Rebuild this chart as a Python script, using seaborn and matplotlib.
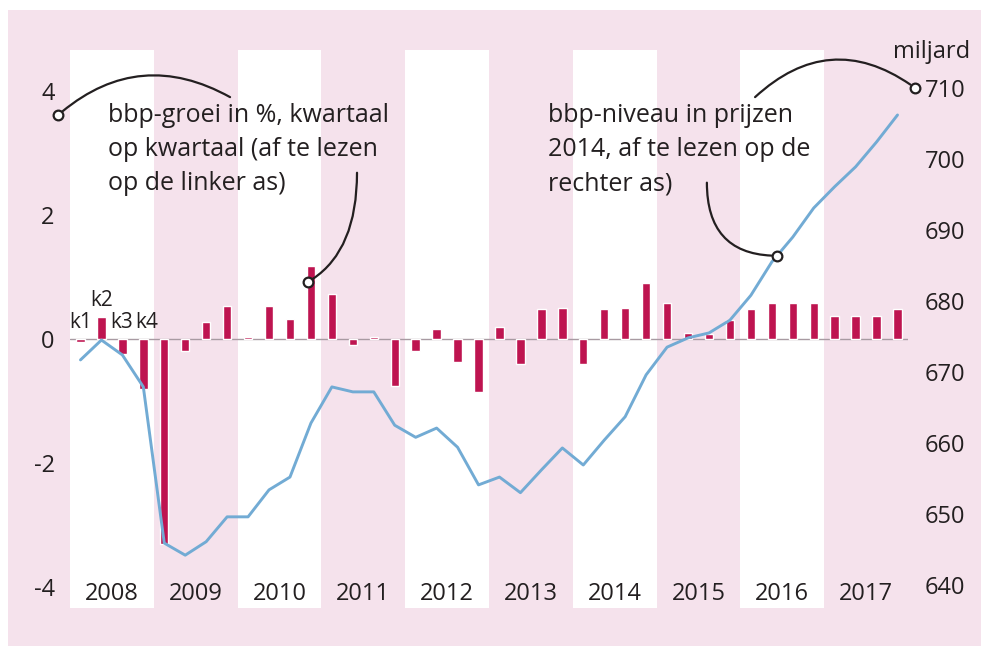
import numpy as np
import pandas as pd
import matplotlib
matplotlib.use("Agg")
import matplotlib.pyplot as plt
import seaborn as sns
from matplotlib.patches import Rectangle

# kwartaalcijfers 2008K1 - 2017K4
jaren = list(range(2008, 2018))
kwartalen = [f"{j}K{k}" for j in jaren for k in range(1, 5)]
groei = [-0.05, 0.35, -0.25, -0.8,
         -3.3, -0.2, 0.27, 0.53,
         0.03, 0.53, 0.32, 1.18,
         0.73, -0.1, 0.03, -0.76,
         -0.2, 0.16, -0.37, -0.86,
         0.2, -0.4, 0.48, 0.5,
         -0.4, 0.48, 0.5, 0.9,
         0.58, 0.1, 0.08, 0.3,
         0.48, 0.58, 0.58, 0.58,
         0.37, 0.37, 0.37, 0.48]
niveau = [671.7, 674.5, 672.4, 667.9,
          645.9, 644.2, 646.1, 649.6,
          649.6, 653.4, 655.2, 662.8,
          667.9, 667.2, 667.2, 662.5,
          660.8, 662.1, 659.4, 654.1,
          655.2, 653.0, 656.2, 659.3,
          656.9, 660.4, 663.7, 669.6,
          673.5, 674.8, 675.5, 677.3,
          680.8, 685.5, 689.0, 693.1,
          696.1, 698.9, 702.4, 706.2]
links_ticks = [-4, -2, 0, 2, 4]
rechts_ticks = [640, 650, 660, 670, 680, 690, 700, 710]
kwartaal_labels = ["k1", "k2", "k3", "k4"]

df = pd.DataFrame({"kwartaal": kwartalen, "groei": groei, "niveau": niveau})
df["pos"] = np.arange(len(df))

ROZE = "#f5e2ec"
ROOD = "#be1450"
BLAUW = "#72abd4"
TEKST = "#231f20"

sns.set_style("white")
plt.rcParams["font.family"] = ["Open Sans", "DejaVu Sans"]
plt.rcParams["axes.unicode_minus"] = False

fig = plt.figure(figsize=(9.81, 6.46), dpi=100, facecolor="white")
fig.add_artist(Rectangle((8 / 981, 0), 1, 1 - 10 / 646, transform=fig.transFigure,
                         facecolor=ROZE, edgecolor="none", zorder=-5))

ax = fig.add_axes([70 / 981, 38 / 646, 838 / 981, 558 / 646])
ax.set_facecolor("none")

# witte banden voor de even jaren
for i, j in enumerate(jaren):
    if i % 2 == 0:
        ax.axvspan(4 * i - 0.5, 4 * i + 3.5, color="white", lw=0, zorder=0)

ax.axhline(0, color="#a89aa2", lw=1, zorder=1)
sns.barplot(data=df, x="pos", y="groei", native_scale=True, color=ROOD,
            saturation=1, width=0.4, ax=ax, zorder=2)

ax.set_xlim(-0.5, len(df) - 0.5)
ax.set_ylim(-4.34, 4.66)
ax.set_yticks(links_ticks)
ax.set_xticks([])
ax.tick_params(axis="y", length=0, pad=11, labelsize=17, labelcolor=TEKST)
ax.set_xlabel("")
ax.set_ylabel("")
sns.despine(ax=ax, left=True, bottom=True)

ax2 = ax.twinx()
sns.lineplot(data=df, x="pos", y="niveau", color=BLAUW, lw=2.1, ax=ax2)
ax2.set_ylim(636.76, 715.35)
ax2.set_yticks(rechts_ticks)
ax2.tick_params(axis="y", length=0, pad=12, labelsize=17, labelcolor=TEKST)
ax2.set_xlabel("")
ax2.set_ylabel("")
for s in ax2.spines.values():
    s.set_visible(False)

# jaartallen onderin de banden
for i, j in enumerate(jaren):
    ax.text(4 * i + 1.5, 0.025, str(j), transform=ax.get_xaxis_transform(),
            ha="center", va="center", fontsize=17, color=TEKST)

# k1..k4 boven de eerste vier kwartalen
k_x = [0, 1, 1.95, 3.15]
for k, lab in enumerate(kwartaal_labels):
    yy = 0.62 if k == 1 else 0.26
    ax.text(k_x[k], yy, lab, ha="center", va="center", fontsize=15, color=TEKST, zorder=3)

# toelichtingen
ax2.text(1.3, 3.05, "bbp-groei in %, kwartaal\nop kwartaal (af te lezen\nop de linker as)",
         transform=ax.transData, ha="left", va="center", fontsize=18,
         linespacing=1.48, color=TEKST)
ax2.text(22.3, 3.05, "bbp-niveau in prijzen\n2014, af te lezen op de\nrechter as)",
         transform=ax.transData, ha="left", va="center", fontsize=18,
         linespacing=1.48, color=TEKST)
fig.text(970 / 981, 1 - 52 / 646, "miljard", ha="right", va="center",
         fontsize=17, color=TEKST)

lijn = dict(arrowstyle="-", color=TEKST, lw=1.6, shrinkA=0, shrinkB=4)
ax2.annotate("", xy=(-1.07, 3.61), xycoords=ax.transData,
             xytext=(7.14, 3.9), textcoords=ax.transData,
             arrowprops=dict(lijn, connectionstyle="arc3,rad=0.35"), annotation_clip=False)
ax2.annotate("", xy=(10.86, 0.92), xycoords=ax.transData,
             xytext=(13.2, 2.68), textcoords=ax.transData,
             arrowprops=dict(lijn, connectionstyle="angle3,angleA=90,angleB=30"))
x3 = 33.25
y3 = np.interp(x3, df["pos"], df["niveau"])
ax2.annotate("", xy=(x3, y3), xytext=(29.9, 2.52), textcoords=ax.transData,
             arrowprops=dict(lijn, connectionstyle="angle3,angleA=90,angleB=0"))
ax2.annotate("", xy=(39.83, 4.05), xycoords=ax.transData,
             xytext=(32.2, 3.9), textcoords=ax.transData,
             arrowprops=dict(lijn, connectionstyle="arc3,rad=-0.41"), annotation_clip=False)

cirkel = dict(marker="o", ms=7, mfc="white", mec=TEKST, mew=1.6, ls="none",
              clip_on=False, zorder=6)
ax2.plot([-1.07, 10.86, 39.83], [3.61, 0.92, 4.05], transform=ax.transData, **cirkel)
ax2.plot([x3], [y3], **cirkel)

fig.savefig("out.png", dpi=100, facecolor="white")
